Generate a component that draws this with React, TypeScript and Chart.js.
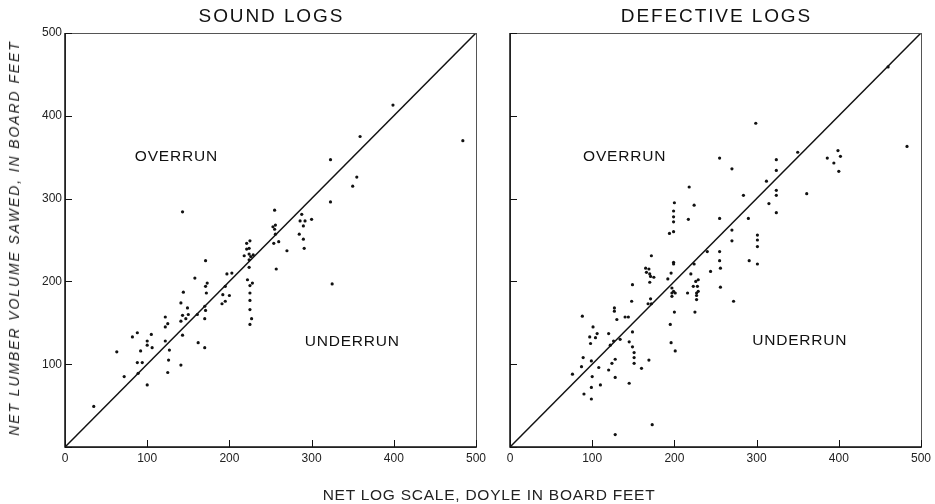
import React, { useEffect, useRef } from 'react';
import { Chart, registerables } from 'chart.js';

Chart.register(...registerables);

const FONT = '"Liberation Sans", Arial, Helvetica, sans-serif';

const tickValues = [0, 100, 200, 300, 400, 500];
const panelTitles = ['SOUND LOGS', 'DEFECTIVE LOGS'];
const overrunText = 'OVERRUN';
const underrunText = 'UNDERRUN';
const yAxisTitle = 'NET LUMBER VOLUME SAWED, IN BOARD FEET';
const xAxisTitle = 'NET LOG SCALE, DOYLE IN BOARD FEET';

// anchor of the region labels, in data units [x, y]
const soundOverrunAt: [number, number] = [135, 351];
const soundUnderrunAt: [number, number] = [349, 127];
const defectOverrunAt: [number, number] = [139, 351];
const defectUnderrunAt: [number, number] = [352, 128];

const equalityLine: [number, number][] = [[0, 0], [500, 500]];

const soundPoints: [number, number][] = [
  [35, 49], [63, 115], [72, 85], [82, 133], [88, 138], [88, 102], [89, 89], [92, 116], [94, 102],
  [100, 128], [100, 123], [100, 75], [105, 136], [106, 120], [122, 157], [122, 145], [125, 149],
  [122, 128], [127, 117], [126, 105], [125, 90], [141, 99], [141, 174], [144, 187], [141, 152],
  [143, 159], [143, 135], [147, 155], [149, 168], [150, 160], [158, 204], [161, 160], [162, 126],
  [170, 120], [171, 225], [171, 194], [173, 198], [172, 186], [171, 165], [170, 155], [170, 170],
  [191, 173], [195, 176], [192, 184], [195, 194], [200, 183], [197, 209], [203, 210], [143, 284],
  [225, 249], [221, 246], [221, 239], [224, 240], [218, 231], [224, 233], [226, 230], [229, 232],
  [224, 226], [224, 217], [222, 202], [228, 198], [225, 195], [225, 186], [225, 177], [225, 166],
  [227, 155], [225, 148], [254, 246], [260, 248], [256, 257], [257, 215], [270, 237], [285, 257],
  [290, 251], [291, 240], [325, 197], [255, 286], [256, 268], [253, 266], [255, 263], [288, 281],
  [286, 273], [292, 273], [290, 267], [300, 275], [323, 347], [323, 296], [359, 375], [355, 326],
  [350, 315], [399, 413], [484, 370],
];

const defectivePoints: [number, number][] = [
  [76, 88], [88, 158], [87, 97], [89, 108], [90, 64], [97, 133], [98, 125], [99, 104], [100, 85],
  [99, 72], [99, 58], [101, 145], [104, 132], [106, 137], [108, 96], [110, 75], [120, 137], [120, 93],
  [122, 123], [124, 101], [126, 128], [127, 168], [127, 164], [128, 106], [128, 84], [128, 15],
  [130, 154], [134, 130], [140, 157], [144, 157], [145, 127], [145, 77], [148, 176], [149, 139],
  [149, 121], [149, 196], [151, 114], [151, 108], [151, 101], [160, 95], [165, 216], [166, 211],
  [169, 215], [170, 209], [170, 199], [169, 105], [168, 173], [172, 231], [171, 206], [171, 179],
  [172, 173], [175, 205], [173, 27], [192, 203], [194, 258], [199, 260], [196, 210], [199, 223],
  [199, 221], [197, 192], [199, 188], [197, 186], [201, 186], [197, 182], [200, 163], [195, 148],
  [196, 126], [201, 116], [216, 186], [220, 209], [223, 194], [224, 221], [226, 200], [228, 194],
  [229, 202], [227, 186], [229, 188], [227, 183], [227, 178], [225, 163], [240, 236],
  [218, 314], [200, 295], [224, 292], [199, 285], [199, 278], [199, 272], [217, 275],
  [299, 391], [255, 349], [270, 336], [324, 347], [324, 334], [350, 356], [312, 321], [284, 304],
  [324, 310], [324, 304], [315, 294], [324, 283], [361, 306], [255, 276], [290, 276], [270, 262],
  [301, 256], [386, 349], [394, 343], [399, 358], [402, 351], [400, 333], [483, 363], [460, 459],
  [270, 249], [255, 236], [255, 225], [256, 216], [244, 212], [256, 193], [272, 176], [291, 225],
  [301, 221], [301, 250], [301, 242],
];

function spacedText(ctx: any, text: string, cx: number, cy: number, spacing: number) {
  // draw centred text with extra letter spacing
  ctx.letterSpacing = `${spacing}px`;
  const w = ctx.measureText(text).width;
  ctx.textAlign = 'left';
  ctx.fillText(text, cx - (w - spacing) / 2, cy);
  ctx.letterSpacing = '0px';
}

const decoPlugin = {
  id: 'panelDeco',
  afterDraw(chart: any, _args: any, opts: any) {
    const { ctx, chartArea: a, scales } = chart;
    const xs = scales.x;
    const ys = scales.y;
    ctx.save();
    // frame
    ctx.strokeStyle = '#555';
    ctx.lineWidth = 1;
    ctx.strokeRect(Math.round(a.left) + 0.5, Math.round(a.top) + 0.5, Math.round(a.width), Math.round(a.height));
    // axis lines
    ctx.strokeStyle = '#111';
    ctx.lineWidth = 1.5;
    ctx.beginPath();
    ctx.moveTo(a.left, a.top);
    ctx.lineTo(a.left, a.bottom);
    ctx.lineTo(a.right, a.bottom);
    ctx.stroke();
    // inward ticks
    ctx.lineWidth = 1;
    ctx.beginPath();
    xs.ticks.forEach((t: any) => {
      const px = Math.round(xs.getPixelForValue(t.value)) + 0.5;
      ctx.moveTo(px, a.bottom);
      ctx.lineTo(px, a.bottom - 7);
    });
    ys.ticks.forEach((t: any) => {
      const py = Math.round(ys.getPixelForValue(t.value)) + 0.5;
      ctx.moveTo(a.left, py);
      ctx.lineTo(a.left + 7, py);
    });
    ctx.stroke();
    // panel title
    ctx.fillStyle = '#111';
    ctx.textBaseline = 'middle';
    ctx.font = `19px ${FONT}`;
    spacedText(ctx, opts.title, (a.left + a.right) / 2, 17, 1.9);
    // region labels
    ctx.font = `15.5px ${FONT}`;
    spacedText(ctx, overrunText, xs.getPixelForValue(opts.over[0]), ys.getPixelForValue(opts.over[1]), 0.8);
    spacedText(ctx, underrunText, xs.getPixelForValue(opts.under[0]), ys.getPixelForValue(opts.under[1]), 0.8);
    ctx.restore();
  },
};

function makeConfig(points: [number, number][], left: boolean, title: string, over: [number, number], under: [number, number]): any {
  return {
    type: 'scatter',
    data: {
      datasets: [
        {
          label: 'logs',
          data: points.map(([x, y]) => ({ x, y })),
          pointRadius: 1.6,
          pointBackgroundColor: '#111',
          pointBorderWidth: 0,
          showLine: false,
        },
        {
          label: 'equal',
          data: equalityLine.map(([x, y]) => ({ x, y })),
          showLine: true,
          borderColor: '#111',
          borderWidth: 1.5,
          pointRadius: 0,
          fill: false,
        },
      ],
    },
    options: {
      animation: false,
      responsive: true,
      maintainAspectRatio: false,
      layout: { padding: { left: 0, top: 33, right: left ? 10 : 12, bottom: 37 } },
      plugins: {
        legend: { display: false },
        tooltip: { enabled: false },
        title: { display: false },
        panelDeco: { title, over, under },
      },
      scales: {
        x: {
          type: 'linear',
          min: 0,
          max: 500,
          afterBuildTicks: (s: any) => { s.ticks = tickValues.map((v) => ({ value: v })); },
          afterFit: (s: any) => { s.height = 20; },
          grid: { display: false, drawTicks: false },
          border: { display: false },
          ticks: { font: { family: FONT, size: 12 }, color: '#222', padding: 4, maxRotation: 0 },
        },
        y: {
          type: 'linear',
          min: 0,
          max: 500,
          afterBuildTicks: (s: any) => { s.ticks = tickValues.map((v) => ({ value: v })); },
          afterFit: (s: any) => { s.width = left ? 65 : 20; },
          grid: { display: false, drawTicks: false },
          border: { display: false },
          ticks: {
            display: left,
            font: { family: FONT, size: 12 },
            color: '#222',
            padding: 3,
            callback: (v: any) => (v === 0 ? '' : String(v)),
          },
          title: { display: false },
        },
      },
    },
    plugins: [decoPlugin],
  };
}

function Panel(props: { points: [number, number][]; left: boolean; title: string; over: [number, number]; under: [number, number]; style: React.CSSProperties }) {
  const ref = useRef<HTMLCanvasElement | null>(null);
  useEffect(() => {
    if (!ref.current) return;
    const chart = new Chart(ref.current, makeConfig(props.points, props.left, props.title, props.over, props.under));
    return () => chart.destroy();
  }, []);
  return (
    <div style={{ position: 'absolute', ...props.style }}>
      <canvas ref={ref} />
    </div>
  );
}

export default function App() {
  return (
    <div style={{ position: 'fixed', left: 0, top: 0, width: 935, height: 504, background: '#fff', overflow: 'hidden' }}>
      <Panel points={soundPoints} left={true} title={panelTitles[0]} over={soundOverrunAt} under={soundUnderrunAt}
        style={{ left: 0, top: 0, width: 490, height: 504 }} />
      <Panel points={defectivePoints} left={false} title={panelTitles[1]} over={defectOverrunAt} under={defectUnderrunAt}
        style={{ left: 490, top: 0, width: 445, height: 504 }} />
      <div style={{ position: 'absolute', left: 14, top: 238, transform: 'translate(-50%, -50%) rotate(-90deg)', whiteSpace: 'nowrap', font: `italic 14px ${FONT}`, letterSpacing: '1.9px', color: '#222', lineHeight: '16px' }}>
        {yAxisTitle}
      </div>
      <div style={{ position: 'absolute', left: 489, top: 495, transform: 'translate(-50%, -50%)', whiteSpace: 'nowrap', font: `15.5px ${FONT}`, letterSpacing: '0.75px', color: '#222', lineHeight: '18px' }}>
        {xAxisTitle}
      </div>
    </div>
  );
}
